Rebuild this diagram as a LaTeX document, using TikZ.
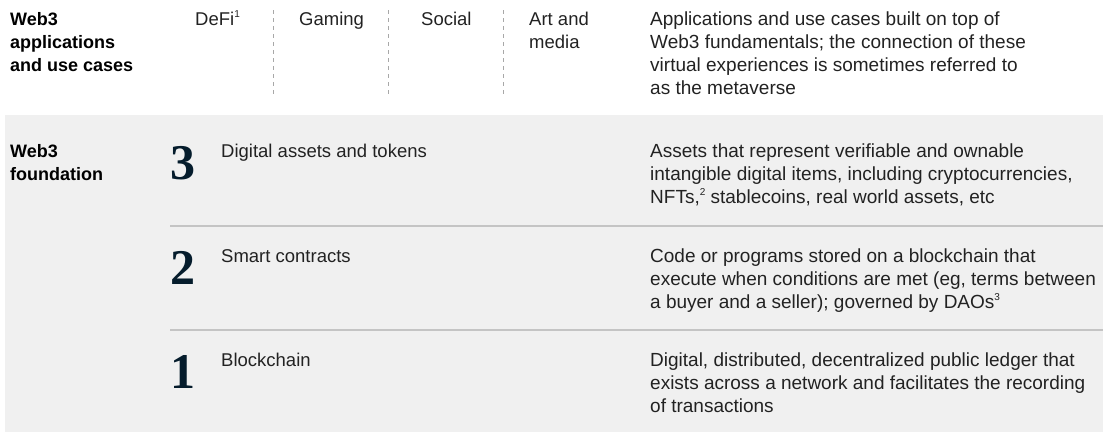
\documentclass[tikz,border=0pt]{standalone}
\usepackage{fontspec}
\setmainfont{Liberation Sans}
\newfontfamily\numfont{Liberation Serif}
\usepackage{tikz}

\definecolor{panelgray}{HTML}{F0F0F0}
\definecolor{rulegray}{HTML}{C4C4C4}
\definecolor{dashgray}{HTML}{A8A8A8}
\definecolor{inkblue}{HTML}{051C2C}
\definecolor{textgray}{HTML}{222222}

\newcommand\fnote[1]{\raisebox{0.42em}{\fontsize{10}{10}\selectfont #1}}

\begin{document}
% text nodes are anchored at the baseline of their last line (23pt per line)
\begin{tikzpicture}[x=1pt,y=-1pt,
  txt/.style={anchor=base west,inner sep=0pt,align=left,text=textgray,
    font=\fontsize{18.5}{23}\selectfont},
  desc/.style={txt,font=\fontsize{19}{23}\selectfont},
  hdr/.style={txt,text=black,font=\fontsize{18}{23}\selectfont\bfseries},
  num/.style={anchor=base west,inner sep=0pt,text=inkblue,
    font=\fontsize{50}{50}\selectfont\numfont\bfseries}]
\useasboundingbox (0,0) rectangle (1103,432);
\fill[panelgray] (5,115) rectangle (1103,432);

% applications row
\node[hdr] (apps) at (10,71) {Web3\\applications\\and use cases};
\node[txt] (defi) at (195,25) {DeFi\fnote{1}};
\node[txt] (gaming) at (299,25) {Gaming};
\node[txt] (social) at (421,25) {Social};
\node[txt] (art) at (529,48) {Art and\\media};
\node[desc] (appsdesc) at (650,94) {Applications and use cases built on top of\\
  Web3 fundamentals; the connection of these\\
  virtual experiences is sometimes referred to\\
  as the metaverse};
\foreach \x in {273,388,503}
  \draw[dashgray,line width=0.8pt,dash pattern=on 4pt off 4pt] (\x,10) -- (\x,95);

% foundation layers
\node[hdr] (found) at (10,180) {Web3\\foundation};

\node[num] (n3) at (170,179) {3};
\node[txt] (assets) at (221,157) {Digital assets and tokens};
\node[desc] (assetsdesc) at (650,203) {Assets that represent verifiable and ownable\\
  intangible digital items, including cryptocurrencies,\\
  NFTs,\fnote{2} stablecoins, real world assets, etc};
\draw[rulegray,line width=1.5pt] (170,226) -- (1103,226);

\node[num] (n2) at (170,284) {2};
\node[txt] (contracts) at (221,262) {Smart contracts};
\node[desc] (contractsdesc) at (650,308) {Code or programs stored on a blockchain that\\
  execute when conditions are met (eg, terms between\\
  a buyer and a seller); governed by DAOs\fnote{3}};
\draw[rulegray,line width=1.5pt] (170,330) -- (1103,330);

\node[num] (n1) at (170,388) {1};
\node[txt] (chain) at (221,366) {Blockchain};
\node[desc] (chaindesc) at (650,412) {Digital, distributed, decentralized public ledger that\\
  exists across a network and facilitates the recording\\
  of transactions};
\end{tikzpicture}
\end{document}
